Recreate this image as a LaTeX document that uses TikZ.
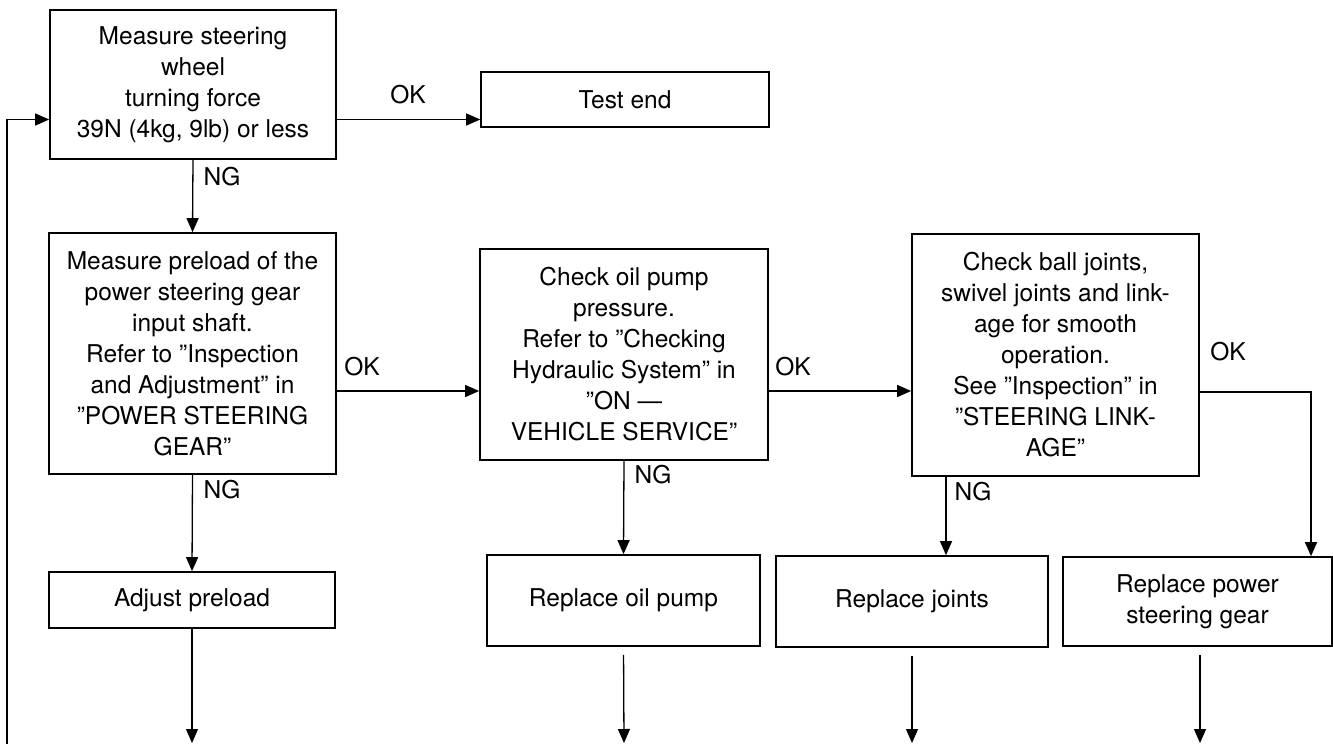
\documentclass[tikz,border=0pt]{standalone}
\usepackage{fontspec}
\setmainfont{TeX Gyre Heros}
\usetikzlibrary{arrows.meta}
\begin{document}
\begin{tikzpicture}[x=1pt,y=-1pt,
  box/.style={draw,line width=1.7pt,align=center,inner sep=0pt,
    font=\fontsize{24.5}{31}\selectfont},
  arr/.style={line width=1.3pt,-{Triangle[length=14pt,width=12pt]}},
  lbl/.style={font=\fontsize{24.5}{28}\selectfont,inner sep=0pt}]
\useasboundingbox (0,0) rectangle (1333,744);

% process boxes
\node[box,minimum width=286pt,minimum height=149pt] (b1) at (193,84.5)
  {Measure steering\\wheel\\turning force\\39N (4kg, 9lb) or less};
\node[box,minimum width=288pt,minimum height=55pt] (test) at (625,99.5) {Test end};
\node[box,minimum width=287pt,minimum height=241pt] (b2) at (192.5,353.5)
  {Measure preload of the\\power steering gear\\input shaft.\\Refer to "Inspection\\and Adjustment'' in\\"POWER STEERING\\GEAR''};
\node[box,minimum width=288pt,minimum height=211pt] (b3) at (624,354.5)
  {Check oil pump\\pressure.\\Refer to "Checking\\Hydraulic System'' in\\"ON ---\\VEHICLE SERVICE''};
\node[box,minimum width=287pt,minimum height=242pt] (b4) at (1055.5,355)
  {Check ball joints,\\swivel joints and link-\\age for smooth\\operation.\\See "Inspection'' in\\"STEERING LINK-\\AGE''};
\node[box,minimum width=286pt,minimum height=56pt] (adj) at (192,600) {Adjust preload};
\node[box,minimum width=273pt,minimum height=91pt] (rop) at (623.5,600.5) {Replace oil pump};
\node[box,minimum width=272pt,minimum height=91pt] (rj) at (912,601.5) {Replace joints};
\node[box,minimum width=269pt,minimum height=89pt] (rps) at (1197.5,601.5) {Replace power\\steering gear};

% free ends of the outgoing arrows and the return line
\coordinate (fb) at (7,744);
\coordinate (e1) at (192,743);
\coordinate (e2) at (624,743);
\coordinate (e3) at (912,743);
\coordinate (e4) at (1200,743);
\coordinate (okc) at (1311,392);

% connectors
\draw[arr] ([yshift=-35pt]b1.east) -- ([yshift=-35pt]b1.east -| test.west);
\draw[arr] (b1.south) -- (b2.north);
\draw[arr] ([yshift=-37.5pt]b2.east) -- ([yshift=-37.5pt]b2.east -| b3.west);
\draw[arr] (b2.south) -- (adj.north);
\draw[arr] ([yshift=-36.5pt]b3.east) -- ([yshift=-36.5pt]b3.east -| b4.west);
\draw[arr] (b3.south) -- (rop.north);
\draw[arr] ([xshift=-109.5pt]b4.south) -- ([xshift=34pt]rj.north);
\draw[arr] ([yshift=-37pt]b4.east) -- (okc) -- (okc |- rps.north);
\draw[arr] (fb) |- ([yshift=-35pt]b1.west);
\draw[arr] (adj.south) -- (e1);
\draw[arr,shorten <=8pt] (rop.south) -- (e2);
\draw[arr,shorten <=8pt] (rj.south) -- (e3);
\draw[arr,shorten <=8pt] (rps.south -| e4) -- (e4);

% branch labels
\node[lbl] (l1) at (408,95) {OK};
\node[lbl] (l2) at (222,177) {NG};
\node[lbl] (l3) at (362,367) {OK};
\node[lbl] (l4) at (222,490) {NG};
\node[lbl] (l5) at (793,367) {OK};
\node[lbl] (l6) at (653,475) {NG};
\node[lbl] (l7) at (1228,352) {OK};
\node[lbl] (l8) at (973,492) {NG};
\end{tikzpicture}
\end{document}
